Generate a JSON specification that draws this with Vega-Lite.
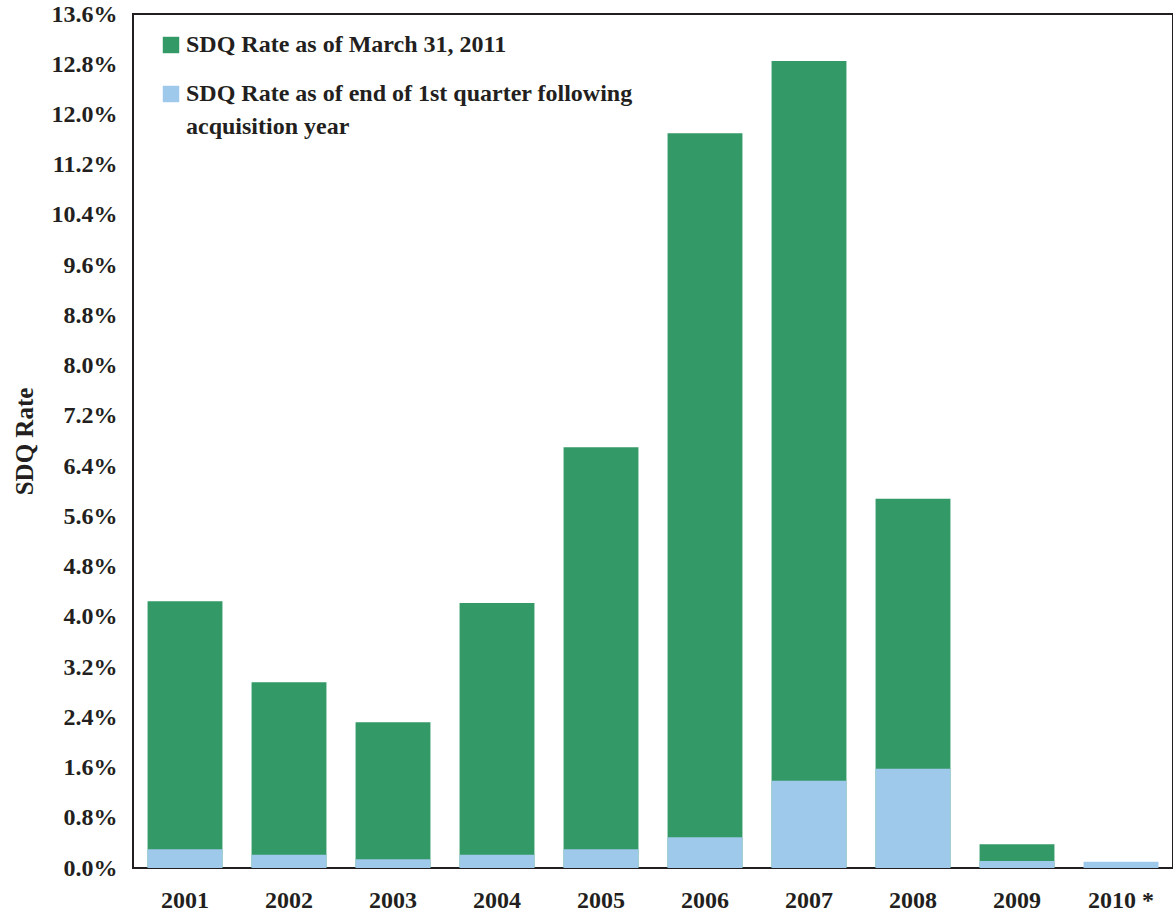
{
  "$schema": "https://vega.github.io/schema/vega-lite/v6.json",
  "width": 1040,
  "height": 854,
  "autosize": {"type": "none"},
  "padding": {"left": 133, "top": 14, "right": 0, "bottom": 49},
  "background": "white",
  "config": {
    "font": "Liberation Serif",
    "view": {"stroke": "#231f20", "strokeWidth": 2}
  },
  "data": {
    "values": [
      {"year": "2001", "series": "SDQ Rate as of March 31, 2011", "rate": 0.0425},
      {"year": "2002", "series": "SDQ Rate as of March 31, 2011", "rate": 0.0296},
      {"year": "2003", "series": "SDQ Rate as of March 31, 2011", "rate": 0.0232},
      {"year": "2004", "series": "SDQ Rate as of March 31, 2011", "rate": 0.0422},
      {"year": "2005", "series": "SDQ Rate as of March 31, 2011", "rate": 0.0670},
      {"year": "2006", "series": "SDQ Rate as of March 31, 2011", "rate": 0.1170},
      {"year": "2007", "series": "SDQ Rate as of March 31, 2011", "rate": 0.1285},
      {"year": "2008", "series": "SDQ Rate as of March 31, 2011", "rate": 0.0588},
      {"year": "2009", "series": "SDQ Rate as of March 31, 2011", "rate": 0.0038},
      {"year": "2001", "series": "SDQ Rate as of end of 1st quarter following acquisition year", "rate": 0.0030},
      {"year": "2002", "series": "SDQ Rate as of end of 1st quarter following acquisition year", "rate": 0.0021},
      {"year": "2003", "series": "SDQ Rate as of end of 1st quarter following acquisition year", "rate": 0.0014},
      {"year": "2004", "series": "SDQ Rate as of end of 1st quarter following acquisition year", "rate": 0.0021},
      {"year": "2005", "series": "SDQ Rate as of end of 1st quarter following acquisition year", "rate": 0.0030},
      {"year": "2006", "series": "SDQ Rate as of end of 1st quarter following acquisition year", "rate": 0.0049},
      {"year": "2007", "series": "SDQ Rate as of end of 1st quarter following acquisition year", "rate": 0.0139},
      {"year": "2008", "series": "SDQ Rate as of end of 1st quarter following acquisition year", "rate": 0.0158},
      {"year": "2009", "series": "SDQ Rate as of end of 1st quarter following acquisition year", "rate": 0.0011},
      {"year": "2010 *", "series": "SDQ Rate as of end of 1st quarter following acquisition year", "rate": 0.0010}
    ]
  },
  "mark": {"type": "bar"},
  "encoding": {
    "x": {
      "field": "year",
      "type": "nominal",
      "sort": null,
      "scale": {"paddingInner": 0.28, "paddingOuter": 0.14},
      "axis": {
        "title": null,
        "labelAngle": 0,
        "labelFont": "Liberation Serif",
        "labelFontWeight": "bold",
        "labelFontSize": 24,
        "labelColor": "#231f20",
        "labelPadding": 20,
        "ticks": false,
        "domain": false
      }
    },
    "y": {
      "field": "rate",
      "type": "quantitative",
      "stack": null,
      "scale": {"domain": [0, 0.136], "nice": false},
      "axis": {
        "title": "SDQ Rate",
        "titleFont": "Liberation Serif",
        "titleFontWeight": "bold",
        "titleFontSize": 25,
        "titleColor": "#231f20",
        "titlePadding": 14,
        "values": [0, 0.008, 0.016, 0.024, 0.032, 0.04, 0.048, 0.056, 0.064, 0.072, 0.08, 0.088, 0.096, 0.104, 0.112, 0.12, 0.128, 0.136],
        "format": ".1%",
        "labelFont": "Liberation Serif",
        "labelFontWeight": "bold",
        "labelFontSize": 24,
        "labelColor": "#231f20",
        "labelPadding": 16,
        "ticks": false,
        "domain": false,
        "grid": false
      }
    },
    "color": {
      "field": "series",
      "type": "nominal",
      "scale": {
        "domain": ["SDQ Rate as of March 31, 2011", "SDQ Rate as of end of 1st quarter following acquisition year"],
        "range": ["#339966", "#9fc9ea"]
      },
      "legend": {
        "title": null,
        "orient": "none",
        "legendX": 26,
        "legendY": 19,
        "symbolType": "square",
        "symbolSize": 270,
        "symbolStrokeWidth": 0,
        "symbolOpacity": 1,
        "labelFont": "Liberation Serif",
        "labelFontWeight": "bold",
        "labelFontSize": 24,
        "labelColor": "#231f20",
        "labelLimit": 700,
        "labelOffset": 3,
        "labelBaseline": "top",
        "rowPadding": 25,
        "labelExpr": "datum.label == 'SDQ Rate as of end of 1st quarter following acquisition year' ? ['SDQ Rate as of end of 1st quarter following', 'acquisition year'] : datum.label",
        "encode": {
          "labels": {
            "update": {
              "dy": {"value": -12},
              "lineHeight": {"value": 33}
            }
          }
        }
      }
    }
  }
}
